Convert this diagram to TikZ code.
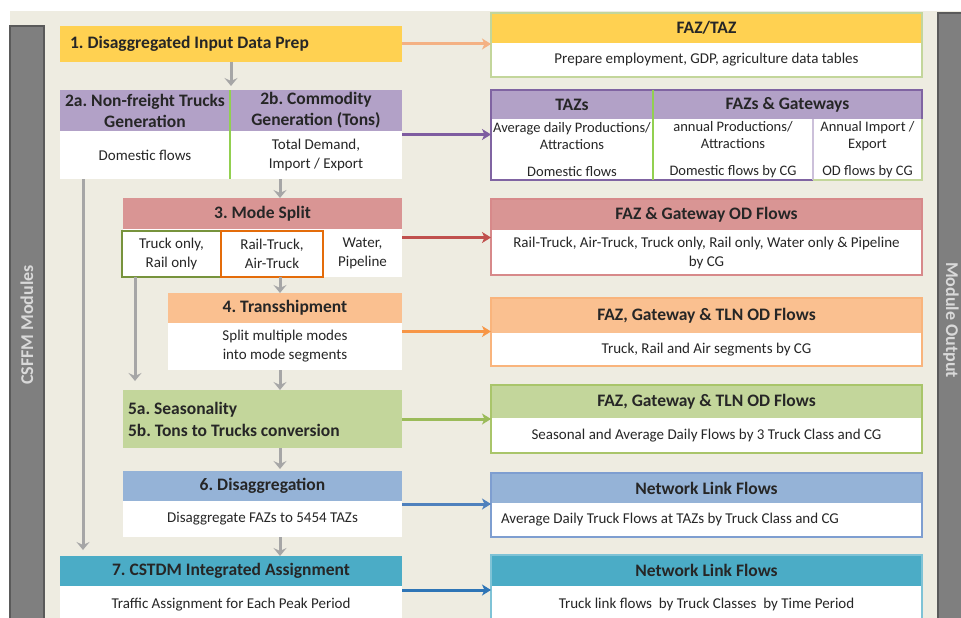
\documentclass[tikz,border=0pt]{standalone}
\usepackage{fontspec}
\setmainfont{Carlito}
\usetikzlibrary{arrows.meta,fit,calc}
\frenchspacing

\definecolor{bgtan}{HTML}{EEECE1}
\definecolor{barfill}{HTML}{7F7F7F}
\definecolor{baredge}{HTML}{5A5A5A}
\definecolor{bartext}{HTML}{D9D9D9}
\definecolor{gold}{HTML}{FFD151}
\definecolor{lilac}{HTML}{B2A1C7}
\definecolor{rose}{HTML}{D99594}
\definecolor{peach}{HTML}{FAC090}
\definecolor{sage}{HTML}{C3D69B}
\definecolor{sky}{HTML}{95B3D7}
\definecolor{teal}{HTML}{4BACC6}
\definecolor{divgreen}{HTML}{92D050}
\definecolor{olive}{HTML}{77933C}
\definecolor{deeporange}{HTML}{E46C0A}
\definecolor{lightlilac}{HTML}{CCC0DA}
\definecolor{purpleedge}{HTML}{8064A2}
\definecolor{roseedge}{HTML}{D7898A}
\definecolor{peachedge}{HTML}{F9B47C}
\definecolor{sageedge}{HTML}{A9C56A}
\definecolor{skyedge}{HTML}{7E9ED0}
\definecolor{tealedge}{HTML}{7FC3D6}
\definecolor{arrgray}{HTML}{A6A6A6}
\definecolor{arrorange}{HTML}{F4B183}
\definecolor{arrpurple}{HTML}{7E5CA0}
\definecolor{arrred}{HTML}{C0504D}
\definecolor{arrpeach}{HTML}{F79646}
\definecolor{arrgreen}{HTML}{9BBB59}
\definecolor{arrblue}{HTML}{4F81BD}
\definecolor{arrdeepblue}{HTML}{2E75B6}
\definecolor{ink}{HTML}{262626}

\begin{document}
\begin{tikzpicture}[x=1pt,y=-1pt,
  cell/.style={anchor=north west, inner sep=0pt, outer sep=0pt, align=center, text=ink},
  hd/.style={font=\fontsize{17.5}{21}\selectfont\bfseries},
  bd/.style={font=\fontsize{15}{19}\selectfont},
  bdsmall/.style={font=\fontsize{14.5}{17.5}\selectfont},
  frame/.style={inner sep=0pt, outer sep=0pt, line width=1.3pt},
  flow/.style={line width=3pt, -{Stealth[length=9pt,width=11pt,inset=2.5pt]}},
  down/.style={line width=3pt, draw=arrgray, -{Stealth[length=8pt,width=13pt,inset=3pt]}},
  sidebar/.style={fill=barfill, draw=baredge, line width=1.2pt},
  sidetext/.style={font=\fontsize{18}{21}\selectfont\bfseries, text=bartext},
]
\useasboundingbox (0,0) rectangle (961,618);
\clip (0,0) rectangle (961,618);

% canvas
\fill[white] (0,0) rectangle (961,618);
\fill[bgtan] (10,11) rectangle (961,618);

% side bars
\node[cell, sidebar, minimum width=34pt, minimum height=620pt] (lbar) at (10,26) {};
\node[sidetext, rotate=90] at (27,325) {CSFFM Modules};
\node[cell, sidebar, minimum width=34pt, minimum height=620pt] (rbar) at (938,13) {};
\node[sidetext, rotate=-90] at (951,320) {Module Output};

% ---------- modules ----------
% 1
\node[cell, hd, fill=gold, minimum width=342pt, minimum height=36pt,
      text width=322pt, align=flush left] (m1) at (60,26) {1. Disaggregated Input Data Prep};

% 2a / 2b
\node[cell, hd, fill=lilac, minimum width=170pt, minimum height=41pt] (m2ah) at (60,90)
  {2a. Non-freight Trucks\\Generation};
\node[cell, hd, fill=lilac, minimum width=172pt, minimum height=41pt] (m2bh) at (230,90)
  {2b. Commodity\\Generation (Tons)};
\node[cell, bd, fill=white, minimum width=170pt, minimum height=48pt] (m2ab) at (60,131)
  {Domestic flows};
\node[cell, bd, fill=white, minimum width=172pt, minimum height=48pt] (m2bb) at (230,131)
  {Total Demand,\\Import / Export};
\node[frame, fit=(m2ah)(m2bb)] (m2) {};
\draw[divgreen, line width=2pt] (m2ah.north east) -- (m2ab.south east);

% 3
\node[cell, hd, fill=rose, minimum width=279pt, minimum height=31pt] (m3h) at (123,198) {3. Mode Split};
\node[cell, fill=white, minimum width=279pt, minimum height=48pt] (m3b) at (123,229) {};
\node[frame, fit=(m3h)(m3b)] (m3) {};
\node[cell, bd, draw=olive, line width=2pt, minimum width=99pt, minimum height=46pt] (c3a) at (122,231)
  {Truck only,\\Rail only};
\node[cell, bd, draw=deeporange, line width=2pt, minimum width=102pt, minimum height=46pt] (c3b) at (221,231)
  {Rail-Truck,\\Air-Truck};
\node[cell, bd, minimum width=79pt, minimum height=48pt] (c3c) at (323,229)
  {Water,\\Pipeline};

% 4
\node[cell, hd, fill=peach, minimum width=234pt, minimum height=30pt] (m4h) at (168,293) {4. Transshipment};
\node[cell, bd, fill=white, minimum width=234pt, minimum height=47pt] (m4b) at (168,323)
  {Split multiple modes\\into mode segments};
\node[frame, fit=(m4h)(m4b)] (m4) {};

% 5
\node[cell, font=\fontsize{17.5}{22}\selectfont\bfseries, fill=sage, minimum width=279pt, minimum height=58pt,
      text width=269pt, align=flush left] (m5) at (123,390)
  {5a. Seasonality\\5b. Tons to Trucks conversion};

% 6
\node[cell, hd, fill=sky, minimum width=279pt, minimum height=30pt] (m6h) at (123,471) {6. Disaggregation};
\node[cell, bd, fill=white, minimum width=279pt, minimum height=36pt] (m6b) at (123,501)
  {Disaggregate FAZs to 5454 TAZs};
\node[frame, fit=(m6h)(m6b)] (m6) {};

% 7
\node[cell, hd, fill=teal, minimum width=342pt, minimum height=30pt] (m7h) at (60,556) {7. CSTDM Integrated Assignment};
\node[cell, bd, fill=white, minimum width=342pt, minimum height=38pt] (m7b) at (60,586)
  {Traffic Assignment for Each Peak Period};
\node[frame, fit=(m7h)(m7b)] (m7) {};

% ---------- outputs ----------
% R1
\node[cell, hd, fill=gold, minimum width=431pt, minimum height=30pt] (r1h) at (491,13) {FAZ/TAZ};
\node[cell, bd, fill=white, minimum width=431pt, minimum height=34pt] (r1b) at (491,43)
  {Prepare employment, GDP, agriculture data tables};
\node[frame, draw=sage, fit=(r1h)(r1b)] (r1) {};

% R2
\node[cell, hd, fill=lilac, minimum width=162pt, minimum height=29pt] (r2ah) at (491,90) {TAZs};
\node[cell, hd, fill=lilac, minimum width=269pt, minimum height=29pt] (r2bh) at (653,90) {FAZs \& Gateways};
\node[cell, bdsmall, fill=white, minimum width=162pt, minimum height=61pt] (r2ab) at (491,119)
  {Average daily Productions/\\Attractions\\[9pt]Domestic flows};
\node[cell, bdsmall, fill=white, minimum width=160pt, minimum height=61pt] (r2bb) at (653,119)
  {annual Productions/\\Attractions\\[9pt]Domestic flows by CG};
\node[cell, bdsmall, fill=white, minimum width=109pt, minimum height=61pt] (r2cb) at (813,119)
  {Annual Import /\\Export\\[9pt]OD flows by CG};
\node[frame, draw=purpleedge, fit=(r2ah)(r2cb)] (r2) {};
\draw[lightlilac, line width=1.2pt] (r2bb.north east) -- (r2bb.south east);
\draw[sage, line width=1.3pt] (r2cb.north east) -- (r2cb.south east) -- (r2cb.south west);
\draw[divgreen, line width=2.2pt] (r2ah.north east) -- (r2ab.south east);

% R3
\node[cell, hd, fill=rose, minimum width=431pt, minimum height=31pt] (r3h) at (491,199) {FAZ \& Gateway OD Flows};
\node[cell, bd, fill=white, minimum width=431pt, minimum height=45pt] (r3b) at (491,230)
  {Rail-Truck, Air-Truck, Truck only, Rail only, Water only \& Pipeline\\by CG};
\node[frame, draw=roseedge, fit=(r3h)(r3b)] (r3) {};

% R4
\node[cell, hd, fill=peach, minimum width=431pt, minimum height=35pt] (r4h) at (491,298) {FAZ, Gateway \& TLN OD Flows};
\node[cell, bd, fill=white, minimum width=431pt, minimum height=33pt] (r4b) at (491,333)
  {Truck, Rail and Air segments by CG};
\node[frame, draw=peachedge, fit=(r4h)(r4b)] (r4) {};

% R5
\node[cell, hd, fill=sage, minimum width=431pt, minimum height=33pt] (r5h) at (491,385) {FAZ, Gateway \& TLN OD Flows};
\node[cell, bd, fill=white, minimum width=431pt, minimum height=35pt] (r5b) at (491,418)
  {Seasonal and Average Daily Flows by 3 Truck Class and CG};
\node[frame, draw=sageedge, fit=(r5h)(r5b)] (r5) {};

% R6
\node[cell, hd, fill=sky, minimum width=431pt, minimum height=30pt] (r6h) at (491,473) {Network Link Flows};
\node[cell, bd, fill=white, minimum width=431pt, minimum height=34pt, text width=411pt, align=flush left] (r6b) at (491,503)
  {Average Daily Truck Flows at TAZs by Truck Class and CG};
\node[frame, draw=skyedge, fit=(r6h)(r6b)] (r6) {};

% R7
\node[cell, hd, fill=teal, minimum width=431pt, minimum height=31pt] (r7h) at (491,555) {Network Link Flows};
\node[cell, bd, fill=white, minimum width=431pt, minimum height=36pt] (r7b) at (491,586)
  {Truck link flows~ by Truck Classes~ by Time Period};
\node[frame, draw=tealedge, fit=(r7h)(r7b)] (r7) {};

% ---------- module -> output arrows ----------
\draw[flow, arrorange]   (m1.east) -- (m1.east -| r1.west);
\draw[flow, arrpurple]   (m2.east) -- (m2.east -| r2.west);
\draw[flow, arrred]      (m3.east) -- (m3.east -| r3.west);
\draw[flow, arrpeach]    (m4.east) -- (m4.east -| r4.west);
\draw[flow, arrgreen]    (m5.east) -- (m5.east -| r5.west);
\draw[flow, arrblue]     (m6.east) -- (m6.east -| r6.west);
\draw[flow, arrdeepblue] (m7.east) -- (m7.east -| r7.west);

% ---------- module sequence ----------
\coordinate (spine) at (280,0);
\coordinate (lspine) at (83,0);
\coordinate (gspine) at (135,0);
\draw[down, shorten >=4pt] (m1.south) -- (m2.north);
\draw[down] (m2.south -| spine) -- (m3.north -| spine);
\draw[down] (m2.south -| lspine) -- ($(m7.north -| lspine)+(0,-6)$);
\draw[down] (c3b.south -| spine) -- (m4.north -| spine);
\draw[down] (c3a.south -| gspine) -- ($(m5.north -| gspine)+(0,-9)$);
\draw[down] (m4.south -| spine) -- (m5.north -| spine);
\draw[down, shorten >=2pt] (m5.south -| spine) -- (m6.north -| spine);
\draw[down] (m6.south -| spine) -- (m7.north -| spine);
\end{tikzpicture}
\end{document}
